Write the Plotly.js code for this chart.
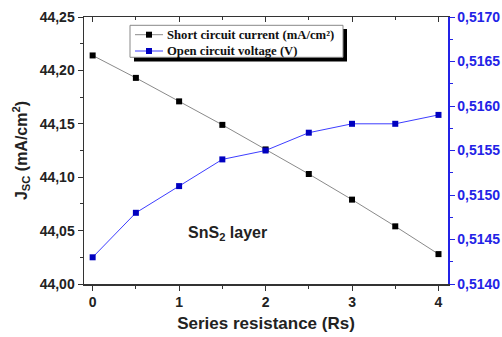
<!DOCTYPE html>
<html>
<head>
<meta charset="utf-8">
<script src="https://cdn.plot.ly/plotly-3.0.1.min.js"></script>
<style>html,body{margin:0;padding:0;background:#fff}#chart{width:502px;height:337px}</style>
</head>
<body>
<div id="chart"></div>
<script>
const rs = [0, 0.5, 1, 1.5, 2, 2.5, 3, 3.5, 4];
const jsc = [44.214, 44.193, 44.171, 44.149, 44.126, 44.103, 44.079, 44.054, 44.028];
const voc = [0.5143, 0.5148, 0.5151, 0.5154, 0.5155, 0.5157, 0.5158, 0.5158, 0.5159];
const xTicks = [0, 1, 2, 3, 4];
const jscName = 'Short circuit current (mA/cm²)';
const vocName = 'Open circuit voltage (V)';

const tickFont = {family: 'Liberation Sans, Arial', size: 14, weight: 'bold', color: '#222'};
const blue = '#2323e6';
const jscLine = '#8a8a8a', jscMarker = '#000';
const vocLine = '#3d3dff', vocMarker = '#0000c0';

// plot area in pixels (for placing the hand-drawn legend box)
const L = 84, R = 448, T = 17, B = 284;
const px = v => (v - L) / (R - L);
const py = v => 1 - (v - T) / (B - T);

const traces = [
  {x: rs, y: jsc, name: jscName, type: 'scatter', mode: 'lines+markers', showlegend: false,
   line: {color: jscLine, width: 1}, marker: {symbol: 'square', size: 6, color: jscMarker},
   xaxis: 'x', yaxis: 'y'},
  {x: rs, y: voc, name: vocName, type: 'scatter', mode: 'lines+markers', showlegend: false,
   line: {color: vocLine, width: 1}, marker: {symbol: 'square', size: 6, color: vocMarker},
   xaxis: 'x', yaxis: 'y2'},
  {x: rs, y: jsc, type: 'scatter', mode: 'markers', showlegend: false, hoverinfo: 'skip',
   marker: {opacity: 0}, xaxis: 'x2', yaxis: 'y'}
];

function legendRow(yc, lineColor, markerColor) {
  return [
    {type: 'line', xref: 'paper', yref: 'paper', x0: px(135), x1: px(163), y0: py(yc), y1: py(yc),
     line: {color: lineColor, width: 1}, layer: 'above'},
    {type: 'rect', xref: 'paper', yref: 'paper', x0: px(146), x1: px(152), y0: py(yc + 3), y1: py(yc - 3),
     fillcolor: markerColor, line: {width: 0}, layer: 'above'}
  ];
}

const legendFont = {family: 'Liberation Serif, Times New Roman', size: 12.7, weight: 'bold', color: '#111'};

const layout = {
  width: 502, height: 337,
  margin: {l: 84, r: 54, t: 17, b: 53},
  paper_bgcolor: '#fff', plot_bgcolor: '#fff',
  separators: ',.',
  showlegend: false,
  xaxis: {range: [-0.1, 4.11], tickvals: xTicks, ticks: 'outside', ticklen: 5, tickwidth: 1,
    tickcolor: '#333', showline: true, linecolor: '#333', linewidth: 1.5, showgrid: false,
    zeroline: false, tickfont: tickFont,
    minor: {dtick: 0.5, ticks: 'outside', ticklen: 3, tickcolor: '#333'},
    title: {text: 'Series resistance (Rs)', font: {family: 'Liberation Sans, Arial', size: 17, weight: 'bold', color: '#222'}, standoff: 8}},
  xaxis2: {overlaying: 'x', matches: 'x', side: 'top', tickvals: xTicks, ticks: 'inside', ticklen: 5,
    tickcolor: '#333', showline: true, linecolor: '#333', linewidth: 1.5, showgrid: false,
    zeroline: false, showticklabels: false,
    minor: {dtick: 0.5, ticks: 'inside', ticklen: 3, tickcolor: '#333'}},
  yaxis: {range: [44.0, 44.25], dtick: 0.05, tick0: 44, tickformat: '.2f', ticks: 'outside', ticklen: 5,
    tickcolor: '#333', showline: true, linecolor: '#333', linewidth: 1.5, showgrid: false,
    zeroline: false, tickfont: tickFont,
    minor: {dtick: 0.025, ticks: 'outside', ticklen: 3, tickcolor: '#333'},
    title: {text: 'J<sub>SC</sub> (mA/cm<sup>2</sup>)', font: {family: 'Liberation Sans, Arial', size: 16, weight: 'bold', color: '#222'}, standoff: 8}},
  yaxis2: {overlaying: 'y', side: 'right', range: [0.514, 0.517], dtick: 0.0005, tick0: 0.514,
    tickformat: '.4f', ticks: 'outside', ticklen: 5, tickcolor: blue, showline: true,
    linecolor: blue, linewidth: 1.5, showgrid: false, zeroline: false,
    tickfont: {family: 'Liberation Sans, Arial', size: 14, weight: 'bold', color: blue},
    minor: {dtick: 0.00025, ticks: 'outside', ticklen: 3, tickcolor: blue}},
  shapes: [
    {type: 'rect', xref: 'paper', yref: 'paper', x0: px(134), x1: px(347), y0: py(61.5), y1: py(29),
     fillcolor: '#000', line: {width: 0}, layer: 'above'},
    {type: 'rect', xref: 'paper', yref: 'paper', x0: px(130), x1: px(343), y0: py(57.3), y1: py(25.3),
     fillcolor: '#fff', line: {color: '#888', width: 1}, layer: 'above'},
    ...legendRow(34.7, jscLine, jscMarker),
    ...legendRow(51, vocLine, vocMarker)
  ],
  annotations: [
    {text: jscName, xref: 'paper', yref: 'paper', x: px(165), y: py(34.7), xanchor: 'left', yanchor: 'middle',
     showarrow: false, font: legendFont},
    {text: vocName, xref: 'paper', yref: 'paper', x: px(165), y: py(51), xanchor: 'left', yanchor: 'middle',
     showarrow: false, font: legendFont},
    {text: 'SnS<sub>2</sub> layer', xref: 'paper', yref: 'paper', x: px(186), y: py(233),
     xanchor: 'left', yanchor: 'middle', showarrow: false,
     font: {family: 'Liberation Sans, Arial', size: 16, weight: 'bold', color: '#222'}}
  ]
};

Plotly.newPlot('chart', traces, layout, {staticPlot: true});
</script>
</body>
</html>
